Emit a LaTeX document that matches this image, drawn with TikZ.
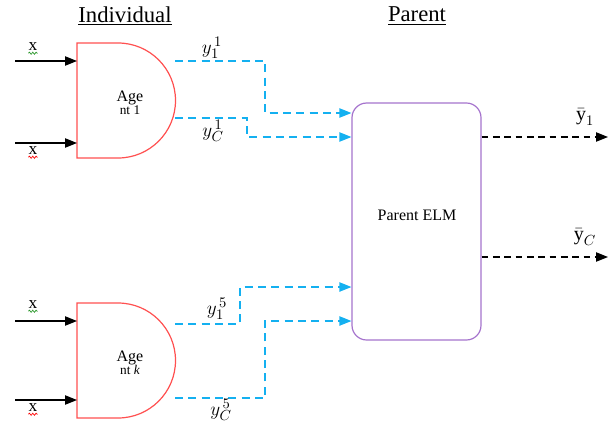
\documentclass[tikz,border=0pt]{standalone}
\usepackage{fontspec}
\setmainfont{Liberation Serif}
\usetikzlibrary{arrows.meta,decorations.pathmorphing}
\definecolor{linkblue}{RGB}{20,176,240}
\definecolor{agentred}{RGB}{255,80,80}
\definecolor{elmpurple}{RGB}{165,115,205}
\definecolor{okgreen}{RGB}{40,150,40}
\begin{document}
\begin{tikzpicture}[x=0.75pt, y=-0.75pt,
  agent/.style={draw=agentred, line width=0.9pt},
  parent/.style={draw=elmpurple, line width=0.9pt, rounded corners=11pt,
    minimum width=96.75pt, minimum height=177.75pt},
  title/.style={font=\fontsize{17}{20}\selectfont},
  agtext/.style={align=center, font=\fontsize{12}{12}\selectfont},
  lbl/.style={font=\fontsize{15}{17}\selectfont},
  xlbl/.style={inner sep=0pt, font=\fontsize{13}{15}\selectfont},
  squig/.style={line width=0.5pt, decorate,
    decoration={snake, amplitude=0.8pt, segment length=2.5pt}},
  input/.style={line width=0.9pt, -{Triangle[length=9pt,width=7pt]}},
  link/.style={draw=linkblue, line width=0.9pt, dash pattern=on 6pt off 4pt,
    -{Triangle[length=9pt,width=7pt]}},
  outlink/.style={line width=0.9pt, dash pattern=on 5pt off 3.5pt,
    -{Triangle[length=9pt,width=7pt]}}
]
  \useasboundingbox (0,0) rectangle (616,429);

  % titles
  \node[title] (indiv) at (125,16) {\underline{Individual}};
  \node[title] (par) at (417,16) {\underline{Parent}};

  % agent 1
  \draw[agent] (77,43) -- (118,43) arc[start angle=-90, end angle=90, radius=57.5] -- (77,158) -- cycle;
  \node[agtext] (ag1) at (130,103) {Age\\[-2pt]{\fontsize{10}{10}\selectfont nt 1}};
  \coordinate (a1in1) at (77,61);   \coordinate (a1in2) at (77,143);
  \coordinate (a1out1) at (175,61); \coordinate (a1out2) at (175,118);

  % agent k
  \draw[agent] (77,303) -- (118,303) arc[start angle=-90, end angle=90, radius=57.5] -- (77,418) -- cycle;
  \node[agtext] (agk) at (130,363) {Age\\[-2pt]{\fontsize{10}{10}\selectfont nt \textit{k}}};
  \coordinate (akin1) at (77,321);   \coordinate (akin2) at (77,400);
  \coordinate (akout1) at (175,324); \coordinate (akout2) at (175,398);

  % parent
  \node[parent] (parent) at (416.5,221.5) {};
  \node[font=\fontsize{12}{14}\selectfont] (elm) at (417,215) {Parent ELM};

  % inputs
  \coordinate (x11) at (15,61);  \coordinate (x12) at (15,143);
  \coordinate (xk1) at (15,321); \coordinate (xk2) at (15,400);
  \draw[input] (x11) -- (a1in1);
  \draw[input] (x12) -- (a1in2);
  \draw[input] (xk1) -- (akin1);
  \draw[input] (xk2) -- (akin2);
  \node[xlbl] (lx11) at (33,47) {x};
  \node[xlbl] (lx12) at (33,151) {x};
  \node[xlbl] (lxk1) at (33,305) {x};
  \node[xlbl] (lxk2) at (33,408) {x};
  \draw[squig, okgreen] ([yshift=-1.5pt]lx11.south west) -- ([yshift=-1.5pt]lx11.south east);
  \draw[squig, red] ([yshift=-1.5pt]lx12.south west) -- ([yshift=-1.5pt]lx12.south east);
  \draw[squig, okgreen] ([yshift=-1.5pt]lxk1.south west) -- ([yshift=-1.5pt]lxk1.south east);
  \draw[squig, red] ([yshift=-1.5pt]lxk2.south west) -- ([yshift=-1.5pt]lxk2.south east);

  % agent outputs to parent
  \draw[link] (a1out1) -| (265,113) -- (parent.west |- 0,113);
  \draw[link] (a1out2) -| (247,137) -- (parent.west |- 0,137);
  \draw[link] (akout1) -| (240,287) -- (parent.west |- 0,287);
  \draw[link] (akout2) -| (265,321) -- (parent.west |- 0,321);
  \node[lbl] (y11) at (212,48) {$y_{1}^{\,1}$};
  \node[lbl] (yc1) at (213,131) {$y_{C}^{\,1}$};
  \node[lbl] (y15) at (217,309) {$y_{1}^{\,5}$};
  \node[lbl] (yc5) at (221,410) {$y_{C}^{\,5}$};

  % parent outputs
  \coordinate (yo1) at (608,137); \coordinate (yoc) at (608,257);
  \draw[outlink] (parent.east |- yo1) -- (yo1);
  \draw[outlink] (parent.east |- yoc) -- (yoc);
  \node[lbl] (ybar1) at (585,117) {$\bar{\textrm{y}}_1$};
  \node[lbl] (ybarc) at (585,237) {$\bar{\textrm{y}}_C$};
\end{tikzpicture}
\end{document}
